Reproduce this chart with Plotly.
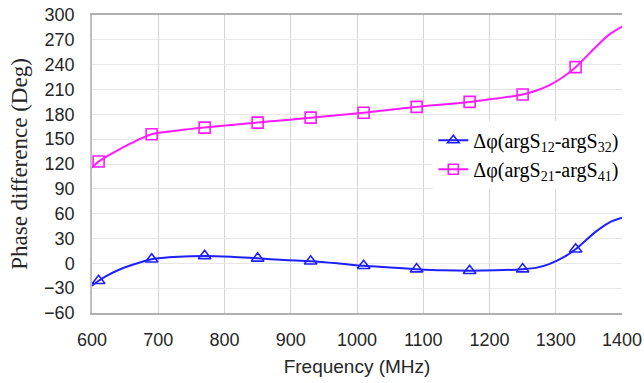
import plotly.graph_objects as go

# Smooth curve samples (MHz, degrees)
freq_curve = [600, 610, 620, 640, 660, 690, 730, 770, 810, 850, 890, 930, 970, 1010,
              1050, 1090, 1130, 1170, 1210, 1250, 1270, 1290, 1310, 1330, 1360, 1380, 1400]
blue_curve = [-27, -21, -16, -8, -2, 5, 8, 9, 8, 6, 4, 2.5, 0, -3,
              -5, -7, -8.5, -9, -8.5, -7, -5.5, -1, 6.5, 17, 38, 49, 55]
mag_curve = [115.5, 123, 128, 137, 145.5, 156, 160.5, 164, 167, 170, 173, 176, 179, 182,
             185.5, 189, 192, 195, 199, 204, 208.5, 215, 224.5, 237, 261, 276, 286]

# Marker points
freq_markers = [610, 690, 770, 850, 930, 1010, 1090, 1170, 1250, 1330]
blue_markers = [-21, 5, 9, 6, 2.5, -3, -7, -9, -7, 17]
mag_markers = [123, 156, 164, 170, 176, 182, 189, 195, 204, 237]

x_ticks = [600, 700, 800, 900, 1000, 1100, 1200, 1300, 1400]
y_ticks = [-60, -30, 0, 30, 60, 90, 120, 150, 180, 210, 240, 270, 300]

name_blue = "Δφ(argS<sub>12</sub>-argS<sub>32</sub>)"
name_mag = "Δφ(argS<sub>21</sub>-argS<sub>41</sub>)"

BLUE = "#1f1fff"
MAG = "#ff1aff"

fig = go.Figure()
for fc, yc, fm, ym, col, sym, nm in [
    (freq_curve, blue_curve, freq_markers, blue_markers, BLUE, "triangle-up-open", name_blue),
    (freq_curve, mag_curve, freq_markers, mag_markers, MAG, "square-open", name_mag),
]:
    fig.add_trace(go.Scatter(x=fc, y=yc, mode="lines", showlegend=False,
                             line=dict(color=col, width=2, shape="spline", smoothing=0.8),
                             hoverinfo="skip"))
    fig.add_trace(go.Scatter(x=fm, y=ym, mode="markers", showlegend=False,
                             marker=dict(symbol=sym, size=11, color=col,
                                         line=dict(color=col, width=1.6))))
    fig.add_trace(go.Scatter(x=[None], y=[None], mode="lines+markers", name=nm,
                             line=dict(color=col, width=2),
                             marker=dict(symbol=sym, size=10, color=col,
                                         line=dict(color=col, width=1.6))))

fig.update_layout(
    width=644, height=383,
    margin=dict(l=92, r=22, t=15, b=70),
    paper_bgcolor="white", plot_bgcolor="white",
    legend=dict(x=0.644, y=0.645, xanchor="left", yanchor="top",
                bgcolor="white", borderwidth=0,
                font=dict(family="Liberation Serif", size=20, color="black"),
                tracegroupgap=0, itemwidth=30),
    xaxis=dict(range=[600, 1400], tickvals=x_ticks, showgrid=True, automargin=False,
               gridcolor="#d4d4d4", gridwidth=1.2,
               showline=True, linecolor="#b0b0b0", linewidth=1.5, mirror=True,
               zeroline=False, ticks="", ticklabelstandoff=10,
               tickfont=dict(family="Liberation Sans", size=18, color="#262626"),
               title=dict(text="Frequency (MHz)", standoff=10,
                          font=dict(family="Liberation Sans", size=19, color="#262626"))),
    yaxis=dict(range=[-60, 300], tickvals=y_ticks, showgrid=True, automargin=False,
               gridcolor="#e6e6e6", gridwidth=1.2,
               showline=True, linecolor="#c0c0c0", linewidth=1.5,
               zeroline=False, ticks="", ticklabelstandoff=12,
               tickfont=dict(family="Liberation Sans", size=18, color="#262626"),
               title=dict(text="Phase difference (Deg)", standoff=10,
                          font=dict(family="Liberation Serif", size=23, color="#262626"))),
)

fig.write_html("out.html")
